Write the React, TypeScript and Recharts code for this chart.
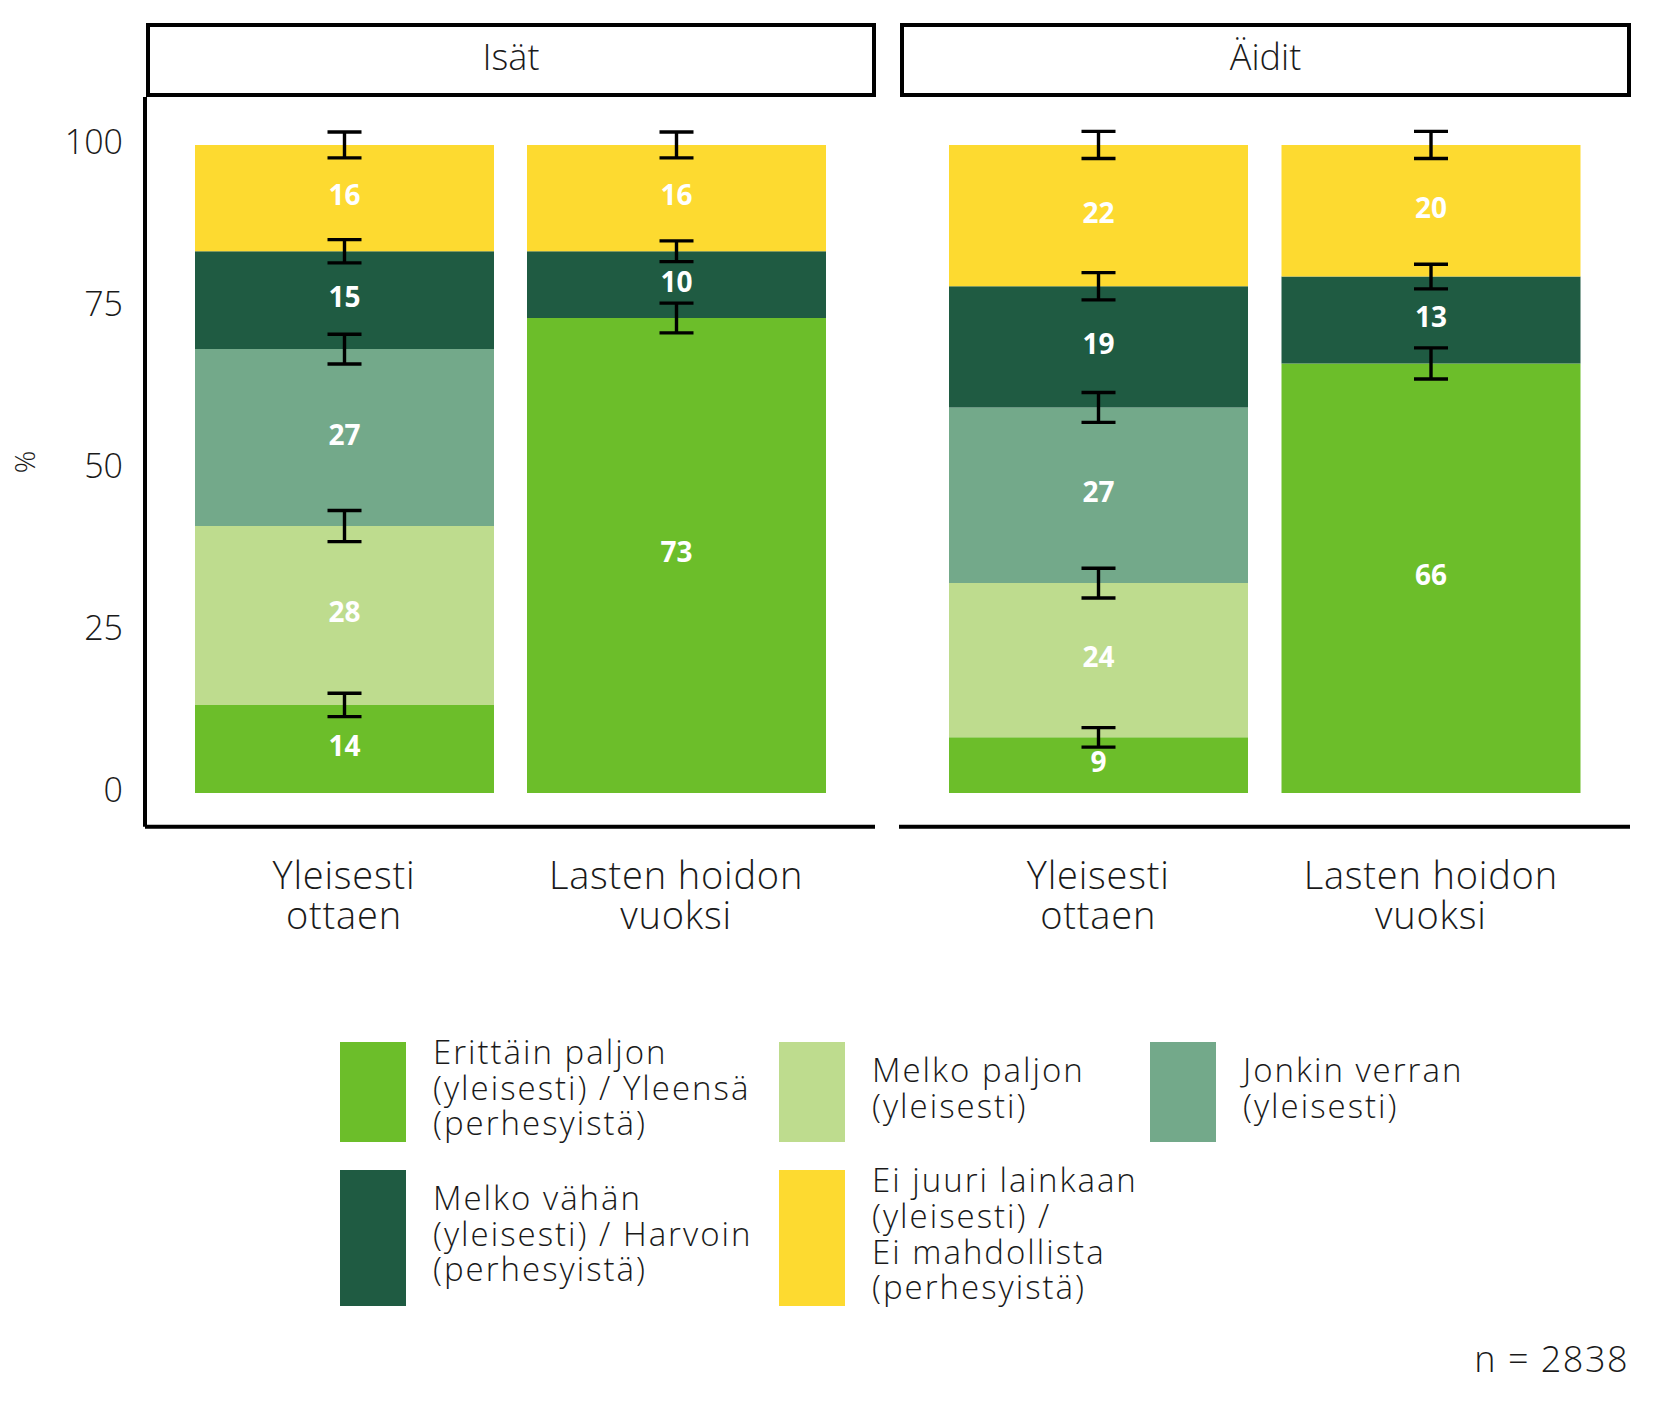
import React from 'react';
import { BarChart, Bar, XAxis, YAxis, ErrorBar, LabelList, Label } from 'recharts';

// ---------- data ----------
const panels = ['Isät', 'Äidit'];
const categories = ['Yleisesti ottaen', 'Lasten hoidon vuoksi'];
const categoryLines = [['Yleisesti', 'ottaen'], ['Lasten hoidon', 'vuoksi']];

const seriesKeys = ['erittain', 'melkoPaljon', 'jonkin', 'melkoVahan', 'eiJuuri'];
const seriesNames = [
  'Erittäin paljon (yleisesti) / Yleensä (perhesyistä)',
  'Melko paljon (yleisesti)',
  'Jonkin verran (yleisesti)',
  'Melko vähän (yleisesti) / Harvoin (perhesyistä)',
  'Ei juuri lainkaan (yleisesti) / Ei mahdollista (perhesyistä)',
];
const legendLines = [
  ['Erittäin paljon', '(yleisesti) / Yleensä', '(perhesyistä)'],
  ['Melko paljon', '(yleisesti)'],
  ['Jonkin verran', '(yleisesti)'],
  ['Melko vähän', '(yleisesti) / Harvoin', '(perhesyistä)'],
  ['Ei juuri lainkaan', '(yleisesti) /', 'Ei mahdollista', '(perhesyistä)'],
];
const seriesColors = ['#6CBE2A', '#BEDC8E', '#73A98A', '#1F5B42', '#FDDA30'];

// Isät (values per category: Yleisesti ottaen, Lasten hoidon vuoksi)
const isatErittain = [13.6, 73.3];
const isatMelkoPaljon = [27.6, null];
const isatJonkin = [27.3, null];
const isatMelkoVahan = [15.1, 10.3];
const isatEiJuuri = [16.4, 16.4];
const isatErittainErr = [1.8, 2.3];
const isatMelkoPaljonErr = [2.4, null];
const isatJonkinErr = [2.3, null];
const isatMelkoVahanErr = [1.8, 1.6];
const isatEiJuuriErr = [2.0, 2.0];

// Äidit
const aiditErittain = [8.6, 66.3];
const aiditMelkoPaljon = [23.8, null];
const aiditJonkin = [27.1, null];
const aiditMelkoVahan = [18.7, 13.4];
const aiditEiJuuri = [21.8, 20.3];
const aiditErittainErr = [1.5, 2.4];
const aiditMelkoPaljonErr = [2.3, null];
const aiditJonkinErr = [2.3, null];
const aiditMelkoVahanErr = [2.1, 1.9];
const aiditEiJuuriErr = [2.1, 2.1];

const yTicks = [0, 25, 50, 75, 100];
const yLabel = '%';
const sampleNote = 'n = 2838';

// ---------- helpers ----------
const FONT = '"Open Sans", Lato, sans-serif';

function buildRows(values: (number | null)[][], errors: (number | null)[][]) {
  return categories.map((c, i) => {
    const row: any = { category: c };
    seriesKeys.forEach((k, j) => {
      row[k] = values[j][i];
      row[k + 'Err'] = errors[j][i];
    });
    return row;
  });
}

const isatData = buildRows(
  [isatErittain, isatMelkoPaljon, isatJonkin, isatMelkoVahan, isatEiJuuri],
  [isatErittainErr, isatMelkoPaljonErr, isatJonkinErr, isatMelkoVahanErr, isatEiJuuriErr]
);
const aiditData = buildRows(
  [aiditErittain, aiditMelkoPaljon, aiditJonkin, aiditMelkoVahan, aiditEiJuuri],
  [aiditErittainErr, aiditMelkoPaljonErr, aiditJonkinErr, aiditMelkoVahanErr, aiditEiJuuriErr]
);

const XTick = (props: any) => {
  const { x, y, payload } = props;
  const idx = categories.indexOf(payload.value);
  const lines = categoryLines[idx] || [payload.value];
  return (
    <text
      x={x}
      y={y}
      textAnchor="middle"
      fontFamily={FONT}
      fontWeight={300}
      fontSize={38}
      letterSpacing={0.8}
      fill="#1a1a1a"
    >
      {lines.map((l, i) => (
        <tspan key={i} x={x} dy={i === 0 ? 60 : 40}>
          {l}
        </tspan>
      ))}
    </text>
  );
};

const YTick = (props: any) => {
  const { x, y, payload } = props;
  return (
    <text
      x={x}
      y={y}
      dy={-4}
      textAnchor="end"
      dominantBaseline="central"
      fontFamily={FONT}
      fontWeight={300}
      fontSize={34}
      fill="#1a1a1a"
    >
      {payload.value}
    </text>
  );
};

const PercentLabel = (props: any) => {
  const { viewBox } = props;
  const cx = viewBox.x + 24;
  const cy = viewBox.y + viewBox.height / 2;
  return (
    <text
      x={cx}
      y={cy}
      transform={`rotate(-90 ${cx} ${cy})`}
      textAnchor="middle"
      dominantBaseline="central"
      fontFamily={FONT}
      fontWeight={300}
      fontSize={28}
      fill="#1a1a1a"
    >
      {yLabel}
    </text>
  );
};

const fmt = (v: any) => (v == null ? '' : String(Math.round(Number(v))));

function Panel({ data, showY, left, width, marginLeft }: any) {
  return (
    <div style={{ position: 'absolute', left, top: 0 }}>
      <BarChart
        width={width}
        height={960}
        data={data}
        margin={{ top: 97, right: 5, bottom: 33.2, left: marginLeft }}
        barSize={299}
      >
        <XAxis
          dataKey="category"
          type="category"
          padding={{ left: 33, right: 33 }}
          axisLine={{ stroke: '#000', strokeWidth: 4 }}
          tickLine={false}
          tickSize={0}
          tickMargin={2}
          interval={0}
          height={100}
          tick={<XTick />}
        />
        <YAxis
          hide={!showY}
          type="number"
          domain={[-5.2, 107.4]}
          allowDataOverflow
          ticks={yTicks}
          width={145}
          axisLine={{ stroke: '#000', strokeWidth: 4 }}
          tickLine={false}
          tickSize={0}
          tickMargin={22}
          tick={<YTick />}
        >
          {showY ? <Label content={<PercentLabel />} /> : null}
        </YAxis>
        {seriesKeys.map((k, j) => (
          <Bar key={k} dataKey={k} name={seriesNames[j]} stackId="a" fill={seriesColors[j]} isAnimationActive={false}>
            <LabelList
              dataKey={k}
              position="center"
              fill="#ffffff"
              fontFamily={FONT}
              fontWeight={700}
              fontSize={28}
              dy={-3}
              formatter={fmt}
            />
            <ErrorBar dataKey={k + 'Err'} width={17} strokeWidth={3.4} stroke="#000" direction="y" />
          </Bar>
        ))}
      </BarChart>
    </div>
  );
}

const stripStyle = (left: number, width: number): React.CSSProperties => ({
  position: 'absolute',
  left,
  top: 23,
  width,
  height: 74,
  boxSizing: 'border-box',
  border: '4px solid #000',
  display: 'flex',
  alignItems: 'center',
  justifyContent: 'center',
  paddingBottom: 8,
  fontFamily: FONT,
  fontWeight: 300,
  fontSize: 36,
  color: '#1a1a1a',
});

const legendCols = [340, 779, 1150];
const legendRows = [
  { top: 1038, height: 107 },
  { top: 1166, height: 143 },
];

export default function App() {
  return (
    <div
      style={{
        position: 'absolute',
        left: 0,
        top: 0,
        width: 1653,
        height: 1417,
        background: '#fff',
        fontFamily: FONT,
        overflow: 'hidden',
      }}
    >
      <Panel data={isatData} showY={true} left={0} width={880} marginLeft={0} />
      <Panel data={aiditData} showY={false} left={880} width={755} marginLeft={19} />
      <div style={stripStyle(146, 730)}>{panels[0]}</div>
      <div style={stripStyle(900, 731)}>{panels[1]}</div>

      {legendLines.map((lines, i) => {
        const row = legendRows[i < 3 ? 0 : 1];
        const col = legendCols[i % 3];
        return (
          <div
            key={i}
            style={{
              position: 'absolute',
              left: col,
              top: row.top,
              height: row.height,
              display: 'flex',
              alignItems: 'center',
            }}
          >
            <div
              style={{
                width: 66,
                alignSelf: 'stretch',
                margin: '3.5px 0',
                background: seriesColors[i],
              }}
            />
            <div
              style={{
                marginLeft: 27,
                position: 'relative',
                top: -4,
                fontSize: 33,
                lineHeight: '35.8px',
                letterSpacing: 2,
                fontWeight: 300,
                color: '#1a1a1a',
                whiteSpace: 'nowrap',
              }}
            >
              {lines.map((l, k) => (
                <div key={k}>{l}</div>
              ))}
            </div>
          </div>
        );
      })}

      <div
        style={{
          position: 'absolute',
          right: 1653 - 1629,
          top: 1360 - 23,
          fontSize: 36,
          lineHeight: '44px',
          letterSpacing: 1.5,
          fontWeight: 300,
          color: '#1a1a1a',
        }}
      >
        {sampleNote}
      </div>
    </div>
  );
}
